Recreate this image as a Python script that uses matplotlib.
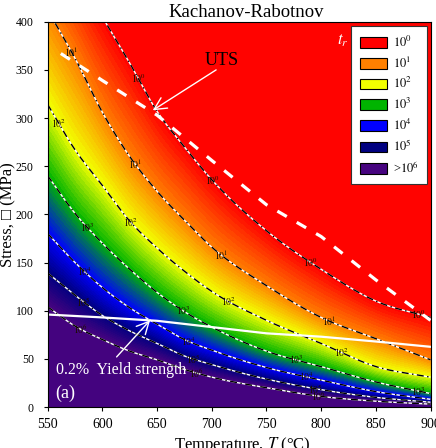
import numpy as np
import matplotlib
matplotlib.use("Agg")
import matplotlib.pyplot as plt
from matplotlib.colors import LinearSegmentedColormap
from matplotlib.patches import Patch

plt.rcParams["font.family"] = ["Liberation Serif", "DejaVu Serif", "DejaVu Sans"]
plt.rcParams["mathtext.fontset"] = "stix"

# Temperatures (°C) at which the iso-rupture-time curves are tabulated
temps = [550, 575, 600, 625, 650, 675, 700, 750, 800, 850, 900]
# Stress (MPa) along each iso-rupture-time curve t_r = 10^k h
stress_t0 = [510, 455, 405, 357, 307, 270, 236, 183, 143, 110, 93]
stress_t1 = [412, 362, 306, 260, 224, 194, 166, 126, 93, 71, 49]
stress_t2 = [314, 267, 230, 193, 165, 141, 120, 90, 66, 42, 31]
stress_t3 = [240, 201, 170, 143, 119, 99, 83, 58, 42, 26, 14]
stress_t4 = [180, 150, 124, 103, 86, 70, 59, 41, 28, 16, 8]
stress_t5 = [139, 116, 95, 79, 66, 53, 44, 29, 18, 10, 5]
stress_t6 = [104, 84, 70, 58, 49, 39, 31, 20, 11, 6, 3]
exponents = [0, 1, 2, 3, 4, 5, 6]

# Ultimate tensile strength and 0.2% yield strength
uts_temps = [562, 600, 650, 700, 750, 800, 850, 900]
uts_stress = [367, 339, 303, 256, 210, 177, 132, 90]
ys_temps = [550, 600, 650, 700, 750, 800, 850, 900]
ys_stress = [96, 93, 89.5, 83, 76.5, 73, 68, 62.5]

legend_labels = ["$10^0$", "$10^1$", "$10^2$", "$10^3$", "$10^4$", "$10^5$", ">$10^6$"]
band_colors = ["#FF0000", "#FF8000", "#F2FF00", "#00B400", "#0000FF", "#000080", "#46037F"]


def smooth_curve(x, y, xq):
    """Cubic Hermite interpolation through tabulated points."""
    x = np.asarray(x, float)
    y = np.asarray(y, float)
    m = np.gradient(y, x)
    i = np.clip(np.searchsorted(x, xq) - 1, 0, len(x) - 2)
    h = x[i + 1] - x[i]
    t = (xq - x[i]) / h
    h00 = 2 * t**3 - 3 * t**2 + 1
    h10 = t**3 - 2 * t**2 + t
    h01 = -2 * t**3 + 3 * t**2
    h11 = t**3 - t**2
    return h00 * y[i] + h10 * h * m[i] + h01 * y[i + 1] + h11 * h * m[i + 1]


levels_stress = [stress_t0, stress_t1, stress_t2, stress_t3, stress_t4, stress_t5, stress_t6]

T = np.linspace(550, 900, 701)
S = np.linspace(0, 400, 801)
curves = np.array([smooth_curve(temps, s, T) for s in levels_stress])

# log10(t_r) field: linear in stress between neighbouring iso-time curves
field = np.empty((len(S), len(T)))
k = np.array(exponents, float)
for j in range(len(T)):
    field[:, j] = np.interp(S, curves[::-1, j], k[::-1], left=k[-1], right=k[0])
field = np.clip(field, 0, 6)

cmap = LinearSegmentedColormap.from_list(
    "tr", list(zip(np.array(exponents) / 6.0, band_colors)))

fig = plt.figure(figsize=(4.36, 4.48), dpi=100)
ax = fig.add_axes([0.1094, 0.0915, 0.878, 0.860])

ax.contourf(T, S, field, levels=np.linspace(0, 6, 73), cmap=cmap, vmin=0, vmax=6,
            antialiased=False)

# iso-rupture-time curves
for c in curves:
    ax.plot(T, c, color="white", lw=1.0, solid_capstyle="butt")
    ax.plot(T, c, color="black", lw=1.0, linestyle=(0, (5, 2.5, 1, 2.5)))

label_temps = {
    0: [633, 701, 790, 889],
    1: [572, 630, 709, 807],
    2: [560, 626, 715, 819],
    3: [586, 674, 777, 889],
    4: [584, 679, 787],
    5: [583, 683, 795],
    6: [580, 686, 798],
}
for e, s in zip(exponents, levels_stress):
    for tl in label_temps[e]:
        yl = float(smooth_curve(temps, s, np.array([tl]))[0])
        ax.text(tl, yl, "$10^{%d}$" % e, fontsize=7, color="#1c1000",
                ha="center", va="center")

# strength curves
ax.plot(uts_temps, uts_stress, color="white", lw=2.3, dashes=(3.4, 3.6))
ax.plot(ys_temps, ys_stress, color="white", lw=1.6)

ax.annotate("", xy=(646, 308), xytext=(704, 350),
            arrowprops=dict(arrowstyle="->", color="white", lw=1.0,
                            mutation_scale=22, shrinkA=0, shrinkB=0))
ax.text(709, 360, "UTS", fontsize=13, color="black", ha="center", va="center")

ax.annotate("", xy=(643.6, 90), xytext=(613, 52),
            arrowprops=dict(arrowstyle="->", color="white", lw=1.0,
                            mutation_scale=22, shrinkA=0, shrinkB=0))
ax.text(558, 38, "0.2%  Yield strength", fontsize=11.5, color="white",
        ha="left", va="center")
ax.text(557, 14, "(a)", fontsize=13, color="white", ha="left", va="center")

ax.text(820, 380, "$t_r$", fontsize=12, color="white", ha="center", va="center",
        fontweight="bold")

handles = [Patch(facecolor=c, edgecolor="black", lw=0.8) for c in band_colors]
leg = ax.legend(handles, legend_labels, loc="upper right",
                bbox_to_anchor=(0.9916, 0.9888), fontsize=9, frameon=True,
                fancybox=False, framealpha=1, edgecolor="#333333",
                handlelength=2.2, handleheight=0.95, labelspacing=0.45,
                borderpad=0.7, handletextpad=0.45, borderaxespad=0)
leg.get_frame().set_linewidth(0.8)

ax.set_xlim(550, 900)
ax.set_ylim(0, 400)
ax.set_xticks(np.arange(550, 901, 50))
ax.set_yticks(np.arange(0, 401, 50))
ax.tick_params(axis="x", labelsize=10, length=3, width=0.8, pad=5, direction="out")
ax.tick_params(axis="y", labelsize=8.5, length=3, width=0.8, pad=7, direction="out")
for sp in ax.spines.values():
    sp.set_linewidth(0.8)

fig.text(0.565, 1 - 17 / 448, "Kachanov-Rabotnov", fontsize=13.5,
         ha="center", va="baseline")
fig.text(0.557, 1 - 449 / 448, "Temperature, $T$ (°C)", fontsize=12,
         ha="center", va="baseline")
fig.text(0.019, 0.522, "Stress, \u25a1 (MPa)", fontsize=12, rotation=90,
         ha="center", va="center")

fig.savefig("out.png", dpi=100)
